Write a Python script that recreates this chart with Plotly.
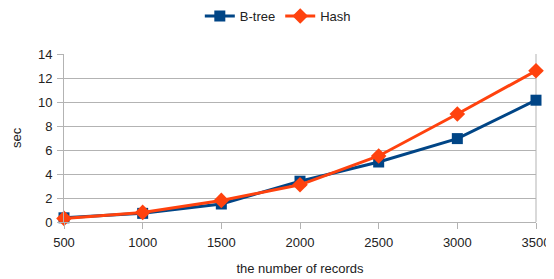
import plotly.graph_objects as go

records = [500, 1000, 1500, 2000, 2500, 3000, 3500]
btree = [0.35, 0.72, 1.5, 3.4, 5.0, 6.95, 10.15]
hashv = [0.3, 0.8, 1.8, 3.1, 5.5, 9.0, 12.6]
y_ticks = [0, 2, 4, 6, 8, 10, 12, 14]

fig = go.Figure()
fig.add_trace(go.Scatter(
    x=records, y=btree, name="B-tree", mode="lines+markers",
    line=dict(color="#004586", width=3),
    marker=dict(symbol="square", size=11, color="#004586"),
    cliponaxis=False,
))
fig.add_trace(go.Scatter(
    x=records, y=hashv, name="Hash", mode="lines+markers",
    line=dict(color="#ff420e", width=3),
    marker=dict(symbol="diamond", size=12, color="#ff420e"),
    cliponaxis=False,
))

# page body has an 8px margin, so the figure is sized to 546x271
W, H = 546, 271
L, R, T, B = 56, 18, 46, 57
font = dict(family="Liberation Sans, Arial, sans-serif", size=13, color="#222")
fig.update_layout(
    width=W, height=H,
    margin=dict(l=L, r=R, t=T, b=B, autoexpand=False),
    paper_bgcolor="white", plot_bgcolor="white",
    font=font,
    showlegend=True,
    legend=dict(orientation="h", x=0.453, xanchor="center",
                yref="container", y=1 - 8 / H, yanchor="middle",
                font=dict(size=13), itemwidth=30, tracegroupgap=0),
)
fig.update_xaxes(
    range=[500, 3500], tickvals=records, ticktext=[str(r) for r in records],
    showgrid=False, showline=True, linecolor="#b3b3b3", mirror=False,
    ticks="outside", ticklen=6, tickcolor="#b3b3b3", ticklabelstandoff=2,
    zeroline=False, automargin=False,
    title=dict(text="the number of records", standoff=15, font=dict(size=13)),
)
fig.update_yaxes(
    range=[0, 14], tickvals=y_ticks,
    showgrid=True, gridcolor="#b3b3b3", gridwidth=1,
    showline=True, linecolor="#b3b3b3",
    ticks="outside", ticklen=6, tickcolor="#b3b3b3", ticklabelstandoff=2,
    zeroline=False, automargin=False,
)
# y-axis title as an annotation placed to the left of the tick labels
plot_w = W - L - R
fig.add_annotation(text="sec", textangle=-90, showarrow=False,
                   xref="paper", yref="paper", x=(8 - L) / plot_w, y=0.5,
                   xanchor="center", yanchor="middle", font=dict(size=13))
# right border line
fig.add_shape(type="line", xref="paper", yref="paper", x0=1, x1=1, y0=0, y1=1,
              line=dict(color="#b3b3b3", width=1), layer="below")

fig.write_html("out.html")
